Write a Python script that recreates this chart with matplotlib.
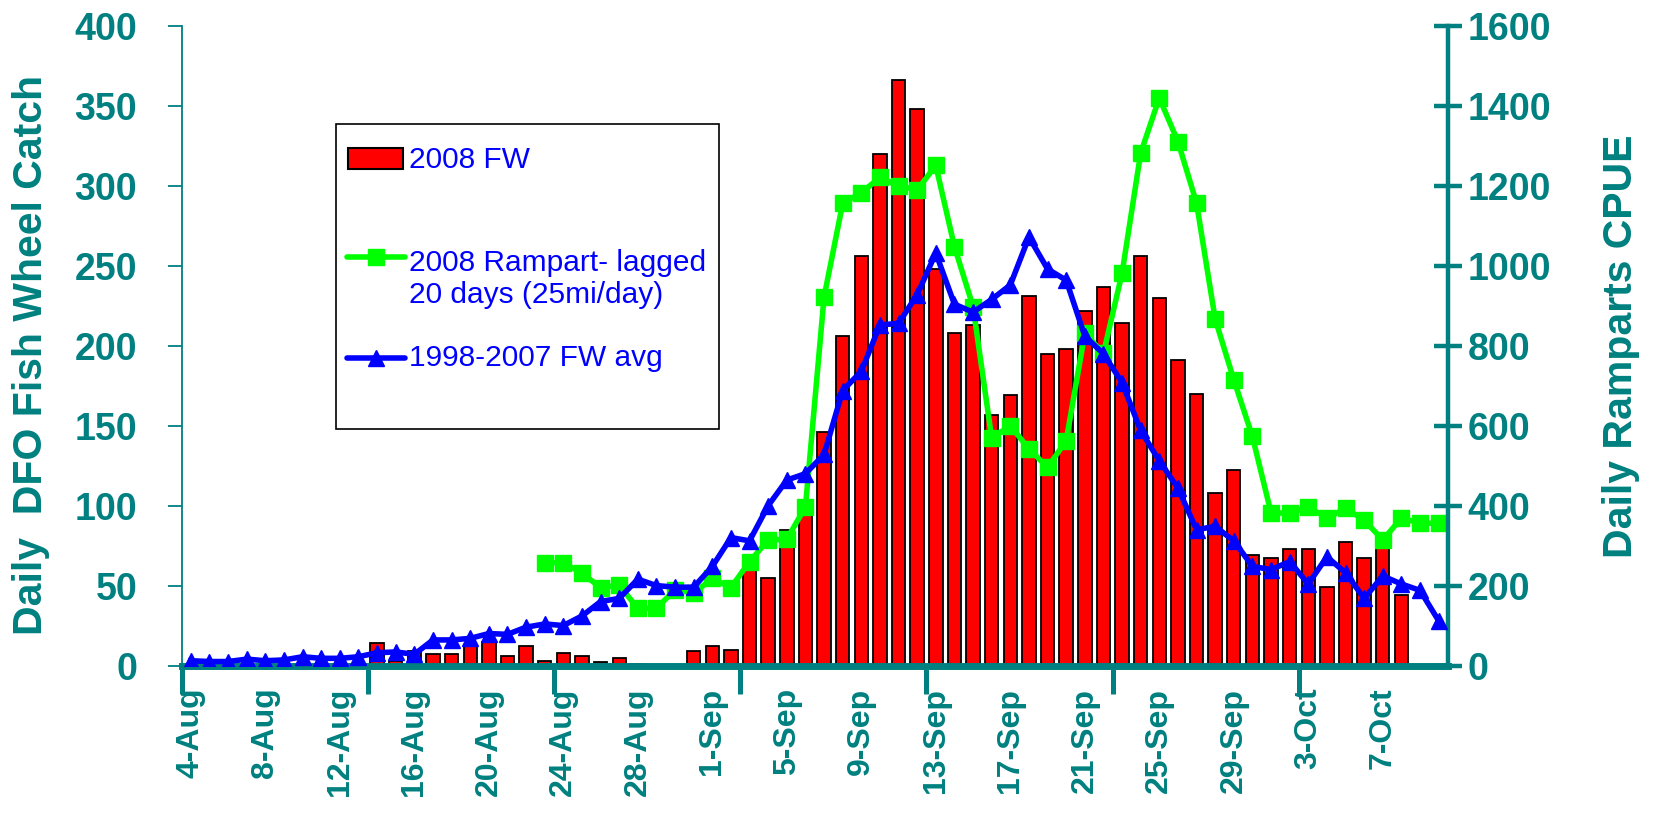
import matplotlib.pyplot as plt
from matplotlib.patches import Rectangle
from matplotlib.lines import Line2D
import numpy as np

plt.rcParams['font.family'] = ['Liberation Sans', 'DejaVu Sans']
plt.rcParams['font.weight'] = 'bold'

teal = '#008080'

# daily values, 4-Aug to 10-Oct 2008 (68 days)
fw_2008 = [0, 0, 0, 0, 0, 0, 0, 0, 0, 0,
           14, 3, 9, 7, 7, 13, 15, 6, 12, 3,
           8, 6, 2, 5, 1, 0, 0, 9, 12, 10,
           60, 55, 85, 98, 146, 206, 256, 320, 366, 348,
           248, 208, 213, 157, 169, 231, 195, 198, 222, 237,
           214, 256, 230, 191, 170, 108, 122, 69, 67, 73,
           73, 49, 77, 67, 74, 44, 0, 0]

rampart_lagged = [None] * 19 + [
    257, 257, 231, 195, 201, 143, 143, 190, 181, 218,
    195, 260, 314, 316, 397, 922, 1156, 1183, 1221, 1200,
    1190, 1251, 1048, 898, 569, 600, 542, 496, 562, 831,
    781, 981, 1282, 1420, 1311, 1157, 867, 715, 573, 382,
    381, 397, 369, 393, 364, 314, 369, 356, 356]

fw_avg = [3, 2.5, 2.5, 4, 3, 3.5, 5.5, 4.5, 4.5, 5.5,
          8, 8.5, 7, 16, 16, 17, 20, 19.5, 24, 26,
          25, 31, 40, 42, 54, 50, 49, 49, 62, 80,
          78, 100, 116, 120, 132, 172, 184, 213, 214, 232,
          258, 226, 221, 229, 238, 268, 248, 241, 206, 195,
          177, 147, 128, 111, 85, 87, 78, 62, 60, 65,
          51, 68, 58, 42, 56, 51, 47, 28]

tick_labels = ['4-Aug', '8-Aug', '12-Aug', '16-Aug', '20-Aug', '24-Aug',
               '28-Aug', '1-Sep', '5-Sep', '9-Sep', '13-Sep', '17-Sep',
               '21-Sep', '25-Sep', '29-Sep', '3-Oct', '7-Oct']

days = np.arange(len(fw_2008))
rampart = np.array([np.nan if v is None else v for v in rampart_lagged], dtype=float)

fig = plt.figure(figsize=(16.55, 8.25), dpi=100)
ax = fig.add_axes([0.1097, 0.1933, 0.7652, 0.7752])

ax.bar(days, fw_2008, width=0.72, color='#FF0000', edgecolor='black', linewidth=1.3)

ax2 = ax.twinx()
ax2.plot(days, rampart, color='#00FF00', lw=4, marker='s', ms=12, zorder=2)
# blue avg line uses the left scale, but sits on top of the green one
ax2.plot(days, fw_avg, color='#0000FF', lw=4, marker='^', ms=12,
         transform=ax.transData, zorder=3)

ax.set_xlim(-0.5, len(days) - 0.5)
ax.set_ylim(0, 400)
ax2.set_ylim(0, 1600)

# spines
for s in ['top', 'right']:
    ax.spines[s].set_visible(False)
for s in ['top', 'left', 'bottom']:
    ax2.spines[s].set_visible(False)
ax.spines['left'].set_color(teal)
ax.spines['left'].set_linewidth(1.3)
ax.spines['bottom'].set_color(teal)
ax.spines['bottom'].set_linewidth(5)
ax2.spines['right'].set_color(teal)
ax2.spines['right'].set_linewidth(3.2)

# ticks
ax.set_yticks(range(0, 401, 50))
ax.tick_params(axis='y', length=10, width=1.3, color=teal, labelcolor=teal,
               labelsize=27, pad=22)
ax.set_xticks(days[::4])
ax.set_xticklabels(tick_labels, rotation=90)
ax.tick_params(axis='x', which='major', length=0, labelcolor=teal,
               labelsize=23, pad=16)
ax.set_xticks(np.arange(-0.5, 60, 10), minor=True)
ax.tick_params(axis='x', which='minor', length=20, width=3.6, color=teal,
               direction='out')

ax2.set_yticks(range(0, 1601, 200))
ax2.tick_params(axis='y', direction='inout', length=20, width=3.2, color=teal,
                labelcolor=teal, labelsize=27, pad=4)

ax.set_ylabel('Daily  DFO Fish Wheel Catch', color=teal, fontsize=29.5,
              fontweight='bold')
ax.yaxis.set_label_coords(-0.119, 0.4855)
ax.yaxis.label.set_va('center')
ax2.set_ylabel('Daily Ramparts CPUE', color=teal, fontsize=29.5,
               fontweight='bold', rotation=90)
ax2.yaxis.set_label_coords(1.137, 0.50)
ax2.yaxis.label.set_va('center')

# legend box, drawn by hand like the original
fig.add_artist(Rectangle((0.203, 0.48), 0.2314, 0.3697, transform=fig.transFigure,
                         facecolor='white', edgecolor='black', lw=1.2, zorder=10))
fig.add_artist(Rectangle((0.2103, 0.7952), 0.0332, 0.0255, transform=fig.transFigure,
                         facecolor='#FF0000', edgecolor='black', lw=1.5, zorder=11))
fig.add_artist(Line2D([0.2097, 0.2272, 0.2447], [0.6885, 0.6885, 0.6885],
                      transform=fig.transFigure, color='#00FF00', lw=4,
                      marker='s', ms=12, markevery=[1], solid_capstyle='round',
                      zorder=11))
fig.add_artist(Line2D([0.2097, 0.2272, 0.2447], [0.566, 0.566, 0.566],
                      transform=fig.transFigure, color='#0000FF', lw=4,
                      marker='^', ms=12, markevery=[1], solid_capstyle='round',
                      zorder=11))
leg_kw = dict(color='#0000FF', fontsize=21.5, fontweight='normal', va='center',
              ha='left', zorder=12)
fig.text(0.2471, 0.806, '2008 FW', **leg_kw)
fig.text(0.2471, 0.6618, '2008 Rampart- lagged\n20 days (25mi/day)', **leg_kw)
fig.text(0.2471, 0.566, '1998-2007 FW avg', **leg_kw)

fig.savefig('out.png', dpi=100)
